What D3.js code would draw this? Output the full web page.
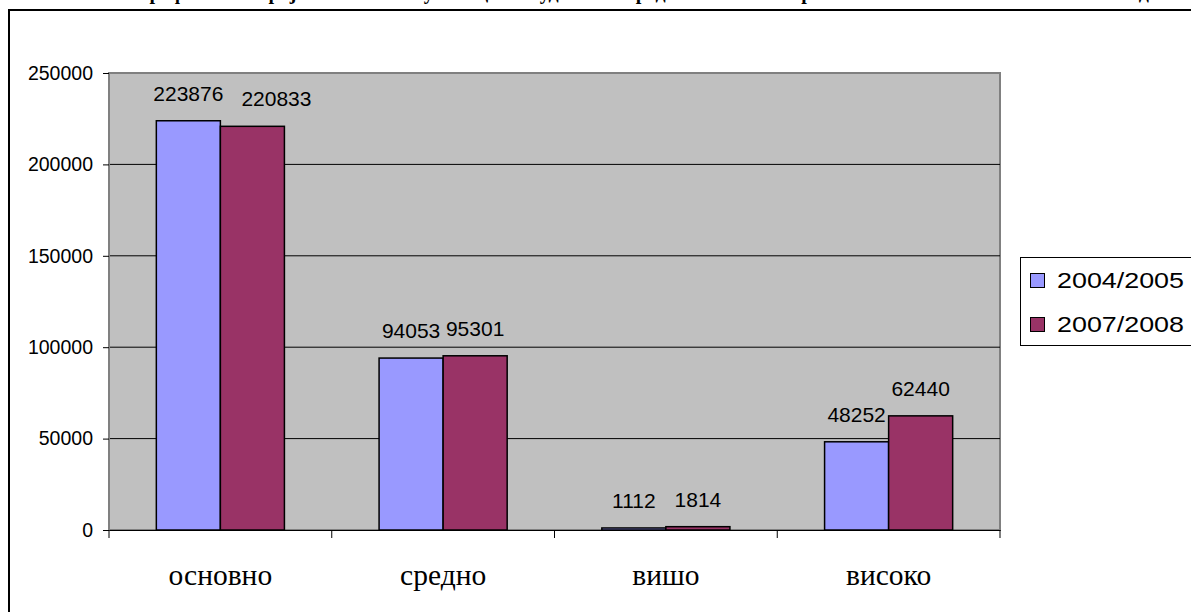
<!DOCTYPE html>
<html>
<head>
<meta charset="utf-8">
<script src="https://cdn.jsdelivr.net/npm/d3@7"></script>
<style>
  html, body { margin: 0; padding: 0; background: #fff; overflow: hidden; }
  svg { display: block; }
</style>
</head>
<body>
<svg id="chart" width="1191" height="612"></svg>
<script>
const categories = ["основно", "средно", "вишо", "високо"];
const seriesNames = ["2004/2005", "2007/2008"];
const values2004 = [223876, 94053, 1112, 48252];
const values2007 = [220833, 95301, 1814, 62440];
const yTicks = [0, 50000, 100000, 150000, 200000, 250000];
const colors = ["#9999FF", "#993366"];
const titleText = "Графикон 1: Број на запишани ученици и студенти според степенот на образование во 2004/2005 и 2007/2008 година";

const svg = d3.select("#chart");
const W = 1191, H = 612;
const plot = { left: 109, right: 1000, top: 73, bottom: 530 };

// Title (cut off at the top edge, as in the reference)
svg.append("text")
  .attr("x", 660).attr("y", -1)
  .attr("text-anchor", "middle")
  .attr("font-family", "'Liberation Serif', 'Times New Roman', serif")
  .attr("font-weight", "bold")
  .attr("font-size", 20)
  .attr("fill", "#000")
  .text(titleText);

// Outer chart border
svg.append("rect")
  .attr("x", 9).attr("y", 10)
  .attr("width", W + 20).attr("height", H + 20)
  .attr("fill", "none").attr("stroke", "#000").attr("stroke-width", 2);

const y = d3.scaleLinear().domain([0, 250000]).range([plot.bottom, plot.top]);
const x0 = d3.scaleBand().domain(categories).range([plot.left, plot.right]).paddingInner(0).paddingOuter(0);
const groupFrac = 0.575;
const x1 = d3.scaleBand().domain(seriesNames)
  .range([0, x0.bandwidth() * groupFrac]).padding(0);
const groupOffset = x0.bandwidth() * (1 - groupFrac) / 2;

// Plot area background
svg.append("rect")
  .attr("x", plot.left).attr("y", plot.top)
  .attr("width", plot.right - plot.left).attr("height", plot.bottom - plot.top)
  .attr("fill", "#C0C0C0").attr("stroke", "#808080").attr("stroke-width", 2);

// Gridlines
svg.append("g")
  .selectAll("line")
  .data(yTicks.filter(d => d > 0 && d < 250000))
  .join("line")
  .attr("x1", plot.left).attr("x2", plot.right)
  .attr("y1", d => y(d)).attr("y2", d => y(d))
  .attr("stroke", "#000").attr("stroke-width", 1);

// Y axis
const yAxis = d3.axisLeft(y).tickValues(yTicks).tickSize(6).tickPadding(10).tickFormat(d3.format("d"));
const gy = svg.append("g").attr("transform", `translate(${plot.left},0)`).call(yAxis);
gy.select(".domain").attr("stroke", "#808080").attr("stroke-width", 1);
gy.selectAll(".tick line").attr("stroke", "#000");
gy.selectAll(".tick text")
  .attr("font-family", "'Liberation Sans', Arial, sans-serif")
  .attr("font-size", 19.5).attr("fill", "#000");

// Bars
const data = categories.map((c, i) => ({ cat: c, vals: [values2004[i], values2007[i]] }));
const groups = svg.append("g").selectAll("g")
  .data(data).join("g")
  .attr("transform", d => `translate(${x0(d.cat) + groupOffset},0)`);

groups.selectAll("rect")
  .data(d => d.vals.map((v, j) => ({ s: seriesNames[j], v, j })))
  .join("rect")
  .attr("x", d => x1(d.s))
  .attr("y", d => y(d.v))
  .attr("width", x1.bandwidth())
  .attr("height", d => y(0) - y(d.v))
  .attr("fill", d => colors[d.j])
  .attr("stroke", "#000").attr("stroke-width", 1.5);

groups.each(function () {
  const g = d3.select(this);
  const labels = g.selectAll("text")
    .data(d => d.vals.map((v, j) => ({ s: seriesNames[j], v, j })))
    .join("text")
    .attr("x", d => x1(d.s) + x1.bandwidth() / 2)
    .attr("y", d => y(d.v) - 20)
    .attr("text-anchor", "middle")
    .attr("font-family", "'Liberation Sans', Arial, sans-serif")
    .attr("font-size", 21).attr("fill", "#000")
    .text(d => d.v);
  // when the two labels of a group collide, push the second one right
  const nodes = labels.nodes();
  const b0 = nodes[0].getBBox(), b1 = nodes[1].getBBox();
  const gap = b1.x - (b0.x + b0.width);
  const vOverlap = Math.min(b0.y + b0.height, b1.y + b1.height) - Math.max(b0.y, b1.y);
  if (gap < 4 && vOverlap > 0) {
    d3.select(nodes[1]).attr("dx", 18 - gap);
  }
});

// X axis
const xAxis = d3.axisBottom(x0).tickSize(0).tickPadding(34);
const gx = svg.append("g").attr("transform", `translate(0,${plot.bottom})`).call(xAxis);
gx.select(".domain").attr("stroke", "#000").attr("stroke-width", 1);
gx.selectAll(".tick text")
  .attr("font-family", "'Liberation Serif', 'Times New Roman', serif")
  .attr("font-size", 29.5).attr("fill", "#000");
// category separator ticks
const sepPos = categories.map(c => x0(c)).concat([plot.right]);
svg.append("g").selectAll("line")
  .data(sepPos).join("line")
  .attr("x1", d => d).attr("x2", d => d)
  .attr("y1", plot.bottom).attr("y2", plot.bottom + 8)
  .attr("stroke", "#000").attr("stroke-width", 1);

// Legend
const legend = svg.append("g");
legend.append("rect")
  .attr("x", 1020.5).attr("y", 257.5).attr("width", 180).attr("height", 88)
  .attr("fill", "#fff").attr("stroke", "#000").attr("stroke-width", 1);
const li = legend.selectAll("g.item").data(seriesNames).join("g")
  .attr("class", "item")
  .attr("transform", (d, i) => `translate(1030,${273 + i * 44})`);
li.append("rect")
  .attr("x", 0.5).attr("y", 0.5).attr("width", 14).attr("height", 14)
  .attr("fill", (d, i) => colors[i]).attr("stroke", "#000").attr("stroke-width", 1);
li.append("text")
  .attr("x", 27).attr("y", 15)
  .attr("font-family", "'Liberation Sans', Arial, sans-serif")
  .attr("font-size", 22).attr("fill", "#000")
  .attr("textLength", 127).attr("lengthAdjust", "spacingAndGlyphs")
  .text(d => d);
</script>
</body>
</html>
